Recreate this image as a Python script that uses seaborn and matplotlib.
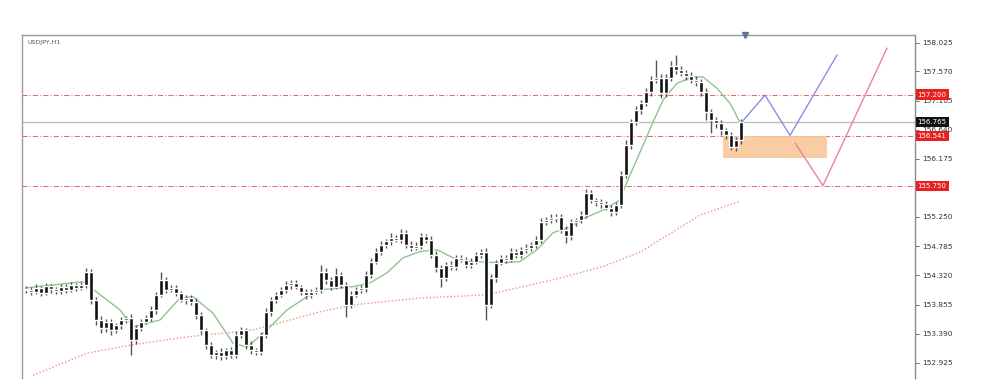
import numpy as np
import pandas as pd
import matplotlib
matplotlib.use("Agg")
import matplotlib.pyplot as plt
import matplotlib.transforms as mtransforms
from matplotlib.patches import Rectangle
import seaborn as sns

# ---------------- data ----------------
symbol_label = "USDJPY,H1"
first_open = 154.10
closes = [154.09, 154.06, 154.12, 154.04, 154.15, 154.10, 154.07, 154.14, 154.09, 154.17,
          154.12, 154.17, 154.38, 153.93, 153.61, 153.48, 153.58, 153.45, 153.53, 153.61,
          153.64, 153.29, 153.48, 153.58, 153.64, 153.77, 154.01, 154.25, 154.09, 154.12,
          154.04, 153.93, 153.96, 153.90, 153.69, 153.45, 153.21, 153.05, 153.10, 153.03,
          153.13, 153.06, 153.37, 153.45, 153.21, 153.13, 153.10, 153.37, 153.74, 153.93,
          154.01, 154.09, 154.17, 154.20, 154.14, 154.06, 154.01, 154.06, 154.09, 154.38,
          154.25, 154.14, 154.33, 154.17, 153.85, 154.01, 154.09, 154.12, 154.33, 154.54,
          154.70, 154.81, 154.86, 154.92, 154.89, 155.00, 154.81, 154.76, 154.79, 154.94,
          154.89, 154.65, 154.44, 154.28, 154.49, 154.46, 154.60, 154.57, 154.49, 154.54,
          154.65, 154.70, 153.85, 154.28, 154.52, 154.60, 154.57, 154.70, 154.65, 154.72,
          154.76, 154.81, 154.89, 155.17, 155.20, 155.23, 155.25, 155.04, 154.94, 155.17,
          155.20, 155.28, 155.63, 155.52, 155.49, 155.45, 155.40, 155.33, 155.44, 155.92,
          156.40, 156.76, 156.95, 157.06, 157.24, 157.43, 157.46, 157.22, 157.46, 157.65,
          157.59, 157.54, 157.49, 157.43, 157.40, 157.24, 156.92, 156.79, 156.74, 156.63,
          156.55, 156.36, 156.47, 156.765]
upper_wick = [0.05, 0.04, 0.06, 0.03, 0.05, 0.04, 0.03, 0.05, 0.04, 0.05,
              0.03, 0.04, 0.06, 0.04, 0.05, 0.06, 0.04, 0.05, 0.03, 0.05,
              0.04, 0.06, 0.05, 0.04, 0.05, 0.06, 0.05, 0.13, 0.04, 0.05,
              0.04, 0.03, 0.05, 0.04, 0.06, 0.05, 0.04, 0.05, 0.03, 0.06,
              0.04, 0.05, 0.07, 0.05, 0.04, 0.06, 0.03, 0.05, 0.06, 0.05,
              0.04, 0.05, 0.06, 0.04, 0.05, 0.03, 0.04, 0.05, 0.04, 0.11,
              0.05, 0.04, 0.11, 0.05, 0.04, 0.06, 0.05, 0.04, 0.06, 0.05,
              0.06, 0.05, 0.04, 0.07, 0.05, 0.06, 0.04, 0.05, 0.06, 0.05,
              0.04, 0.05, 0.06, 0.04, 0.05, 0.06, 0.05, 0.04, 0.05, 0.06,
              0.05, 0.04, 0.05, 0.06, 0.05, 0.04, 0.05, 0.06, 0.04, 0.05,
              0.06, 0.04, 0.05, 0.06, 0.05, 0.07, 0.04, 0.05, 0.06, 0.05,
              0.04, 0.06, 0.07, 0.05, 0.04, 0.05, 0.06, 0.04, 0.05, 0.06,
              0.07, 0.05, 0.06, 0.05, 0.07, 0.06, 0.29, 0.06, 0.07, 0.08,
              0.18, 0.06, 0.05, 0.07, 0.06, 0.05, 0.06, 0.05, 0.06, 0.05,
              0.04, 0.06, 0.05, 0.04]
lower_wick = [0.05, 0.06, 0.04, 0.05, 0.04, 0.06, 0.05, 0.04, 0.05, 0.04,
              0.05, 0.04, 0.05, 0.06, 0.08, 0.07, 0.06, 0.08, 0.05, 0.06,
              0.05, 0.24, 0.06, 0.05, 0.04, 0.05, 0.06, 0.04, 0.05, 0.04,
              0.05, 0.04, 0.06, 0.05, 0.06, 0.07, 0.06, 0.05, 0.06, 0.05,
              0.04, 0.05, 0.06, 0.05, 0.07, 0.06, 0.05, 0.04, 0.05, 0.06,
              0.05, 0.04, 0.05, 0.06, 0.04, 0.05, 0.06, 0.05, 0.04, 0.05,
              0.06, 0.05, 0.04, 0.05, 0.19, 0.05, 0.04, 0.05, 0.06, 0.05,
              0.04, 0.05, 0.06, 0.05, 0.04, 0.05, 0.06, 0.05, 0.04, 0.05,
              0.06, 0.05, 0.07, 0.14, 0.05, 0.06, 0.05, 0.04, 0.06, 0.05,
              0.04, 0.05, 0.24, 0.05, 0.06, 0.04, 0.05, 0.04, 0.06, 0.05,
              0.04, 0.05, 0.06, 0.05, 0.04, 0.05, 0.06, 0.05, 0.11, 0.05,
              0.06, 0.05, 0.04, 0.05, 0.06, 0.05, 0.04, 0.06, 0.05, 0.04,
              0.05, 0.06, 0.05, 0.06, 0.05, 0.06, 0.05, 0.08, 0.06, 0.05,
              0.06, 0.05, 0.06, 0.05, 0.06, 0.07, 0.12, 0.20, 0.08, 0.07,
              0.06, 0.04, 0.06, 0.05]

# fast (green) moving average, read at sample bars
ma_fast_x = [0, 11.4, 18.8, 21.4, 26.8, 30.8, 33.4, 37.4, 41.4, 44.2, 48.2, 52.2, 56.2,
             58.8, 65.4, 68.8, 72.2, 75.4, 78.8, 82.2, 85.4, 88.8, 95.4, 98.8, 102.2,
             105.4, 108.8, 112.2, 115.4, 118.8, 120.2, 123.4, 125.4, 127.4, 130.2,
             133.4, 135.4, 138.2, 140.8, 142.8]
ma_fast_y = [154.12, 154.22, 153.77, 153.50, 153.61, 153.96, 153.98, 153.72, 153.24, 153.18,
             153.45, 153.77, 153.98, 154.09, 154.14, 154.20, 154.36, 154.60, 154.70, 154.73,
             154.60, 154.54, 154.52, 154.54, 154.73, 155.00, 155.09, 155.25, 155.36, 155.52,
             155.81, 156.39, 156.76, 157.11, 157.38, 157.48, 157.48, 157.30, 157.06, 156.76]
# slow (red dotted) moving average
ma_slow_x = [1.4, 12.2, 20.8, 32.2, 45.4, 58.8, 65.4, 78.8, 92.2, 105.4, 115.4, 122.8,
             134.8, 142.8]
ma_slow_y = [152.73, 153.08, 153.21, 153.34, 153.45, 153.74, 153.85, 153.96, 154.01,
             154.25, 154.46, 154.69, 155.28, 155.50]

# projected paths
blue_path_x = [143.2, 147.8, 152.8, 162.2]
blue_path_y = [156.765, 157.19, 156.55, 157.83]
red_path_x = [153.8, 159.4, 172.2]
red_path_y = [156.43, 155.75, 157.94]

# zone
zone_x = [139.4, 160.2]
zone_y = [156.19, 156.541]

# horizontal levels
red_levels = [157.200, 156.541, 155.750]
red_level_labels = ["157.200", "156.541", "155.750"]
current_price = 156.765
current_label = "156.765"

# y ticks (155.710 is hidden behind the 155.750 tag in the reference)
ytick_values = [158.025, 157.570, 157.105, 156.640, 156.175, 155.710, 155.250,
                154.785, 154.320, 153.855, 153.390, 152.925]
ytick_labels = ["158.025", "157.570", "157.105", "156.640", "156.175", "",
                "155.250", "154.785", "154.320", "153.855", "153.390", "152.925"]

# ---------------- figure ----------------
sns.set_style("white")
plt.rcParams["font.family"] = ["DejaVu Sans"]

fig = plt.figure(figsize=(10, 3.92), dpi=100)
ax = fig.add_axes([0.022, 0.0357, 0.893, 0.875])

n = len(closes)
idx = np.arange(n)
opens = np.array([first_open] + closes[:-1])
cl = np.array(closes)
highs = np.maximum(opens, cl) + np.array(upper_wick)
lows = np.minimum(opens, cl) - np.array(lower_wick)

# levels
for lv in red_levels:
    ax.axhline(lv, color="#e86a6a", lw=0.75, ls=(0, (5, 2, 1, 2)), zorder=1)
ax.axhline(current_price, color="#bdbdbd", lw=1.0, zorder=1)

# zone
ax.add_patch(Rectangle((zone_x[0], zone_y[0]), zone_x[1] - zone_x[0], zone_y[1] - zone_y[0],
                       facecolor="#f9c594", edgecolor="none", alpha=0.85, zorder=1.5))

# moving averages
df_slow = pd.DataFrame({"x": ma_slow_x, "y": ma_slow_y})
sns.lineplot(data=df_slow, x="x", y="y", ax=ax, color="#f09090", lw=1.0,
             linestyle=(0, (1, 1.5)), estimator=None, sort=False, zorder=2)
df_fast = pd.DataFrame({"x": ma_fast_x, "y": ma_fast_y})
sns.lineplot(data=df_fast, x="x", y="y", ax=ax, color="#8cc68c", lw=1.0,
             estimator=None, sort=False, zorder=2)

# candles
ax.vlines(idx, lows, highs, color="#555555", lw=1.0, zorder=3)
body_bottom = np.minimum(opens, cl)
body_h = np.maximum(np.abs(cl - opens), 0.015)
ax.bar(idx, body_h, bottom=body_bottom, width=0.78, color="#111111", zorder=4)

# projections
df_blue = pd.DataFrame({"x": blue_path_x, "y": blue_path_y})
sns.lineplot(data=df_blue, x="x", y="y", ax=ax, color="#8c8ce6", lw=1.0,
             estimator=None, sort=False, zorder=5)
df_red = pd.DataFrame({"x": red_path_x, "y": red_path_y})
sns.lineplot(data=df_red, x="x", y="y", ax=ax, color="#e884a0", lw=1.0,
             estimator=None, sort=False, zorder=5)

# axes cosmetics
ax.set_xlim(-0.8, 177.8)
ax.set_ylim(152.686, 158.148)
ax.set_xlabel("")
ax.set_ylabel("")
ax.set_xticks([])
ax.yaxis.tick_right()
ax.set_yticks(ytick_values)
ax.set_yticklabels(ytick_labels)
ax.tick_params(axis="y", labelsize=5.3, length=3, width=0.6, pad=2,
               colors="#555555", labelcolor="#333333", right=True)
for side in ["top", "left"]:
    ax.spines[side].set_color("#9a9a9a")
    ax.spines[side].set_linewidth(1.0)
ax.spines["right"].set_color("#8a8a8a")
ax.spines["right"].set_linewidth(1.0)
ax.spines["bottom"].set_visible(False)

ax.text(0.006, 0.985, symbol_label, transform=ax.transAxes, fontsize=4.5,
        color="#555555", ha="left", va="top")

# price tags on the right
trans = mtransforms.blended_transform_factory(ax.transAxes, ax.transData)
for lv, lab in zip(red_levels, red_level_labels):
    ax.text(1.003, lv, lab, transform=trans, fontsize=5.0, color="white",
            ha="left", va="center", zorder=10, clip_on=False,
            bbox=dict(boxstyle="square,pad=0.3", fc="#e82020", ec="none"))
ax.text(1.003, current_price, current_label, transform=trans, fontsize=5.0, color="white",
        ha="left", va="center", zorder=10, clip_on=False,
        bbox=dict(boxstyle="square,pad=0.3", fc="#111111", ec="none"))

# shift marker at top
ax.plot([143.8], [158.148], marker="v", color="#5f7595", markersize=4,
        clip_on=False, zorder=10)

fig.savefig("out.png", dpi=100)
